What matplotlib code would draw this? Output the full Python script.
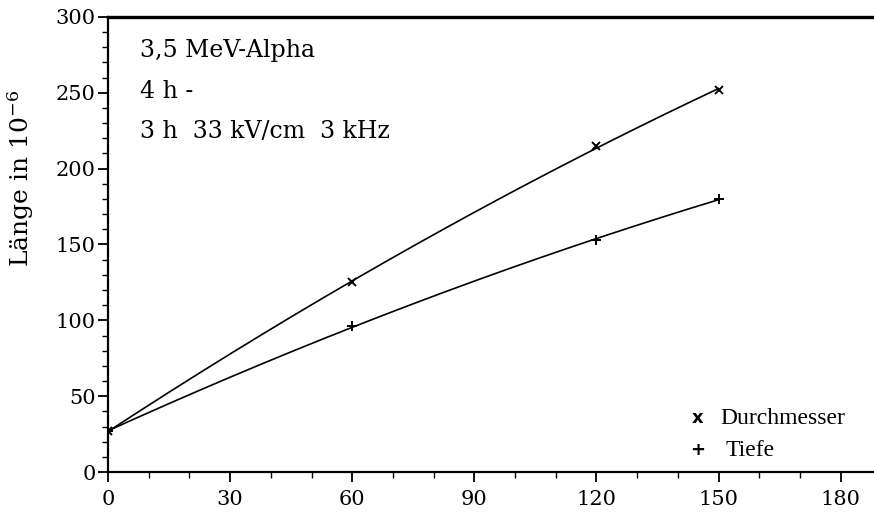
import numpy as np
import matplotlib
matplotlib.use("Agg")
import matplotlib.pyplot as plt
from matplotlib.ticker import MultipleLocator

# Measured lengths (in 1e-6) versus time
zeit = [0, 60, 120, 150]
durchmesser = [27, 125, 215, 252]
tiefe = [27, 96, 153, 180]

x_ticks = [0, 30, 60, 90, 120, 150, 180]
y_ticks = [0, 50, 100, 150, 200, 250, 300]

legend_labels = ["Durchmesser", "Tiefe"]
legend_symbols = ["x", "+"]

plt.rcParams["font.family"] = ["DejaVu Serif"]
plt.rcParams["mathtext.fontset"] = "dejavuserif"

fig = plt.figure(figsize=(8.74, 5.24), dpi=100)
ax = fig.add_axes([0.1236, 0.0992, 0.8764, 0.8684])

# smooth trend curves through the measurements
xs = np.linspace(0, 150, 200)
for vals in (durchmesser, tiefe):
    c = np.polyfit(zeit, vals, 2)
    ax.plot(xs, np.polyval(c, xs), color="black", lw=1.2)

ax.plot(zeit, durchmesser, "x", color="black", ms=5.5, mew=1.4)
ax.plot(zeit, tiefe, "+", color="black", ms=6.5, mew=1.4)

ax.set_xlim(0, 188.2)
ax.set_ylim(0, 300)
ax.set_xticks(x_ticks)
ax.set_yticks(y_ticks)
ax.xaxis.set_minor_locator(MultipleLocator(10))
ax.yaxis.set_minor_locator(MultipleLocator(10))
ax.tick_params(axis="both", which="major", direction="out", length=7, width=1.3,
               labelsize=15)
ax.tick_params(axis="both", which="minor", direction="out", length=4, width=1.0)
ax.tick_params(axis="x", pad=6)
ax.tick_params(axis="y", pad=2)

ax.spines["right"].set_visible(False)
for s in ("left", "bottom"):
    ax.spines[s].set_linewidth(1.6)
ax.spines["top"].set_linewidth(2.4)

ax.set_ylabel("Länge in 10$^{-6}$", fontsize=18)
ax.yaxis.set_label_coords(-0.114, 0.646)
ax.yaxis.label.set_verticalalignment("center")

for yf, txt in zip([0.927, 0.837, 0.749],
                   ["3,5 MeV-Alpha", "4 h -", "3 h  33 kV/cm  3 kHz"]):
    ax.text(0.042, yf, txt, transform=ax.transAxes, fontsize=17, va="center")

# legend drawn as symbol + label pairs
for yv, sym, lab, xl in zip([35.6, 14.5], legend_symbols, legend_labels,
                            [150.5, 151.7]):
    ax.text(144.8, yv, sym, ha="center", va="center", fontsize=13,
            family="DejaVu Sans", weight="bold")
    ax.text(xl, yv, lab, ha="left", va="center",
            fontsize=17, family="Liberation Serif")

fig.savefig("out.png", dpi=100)
